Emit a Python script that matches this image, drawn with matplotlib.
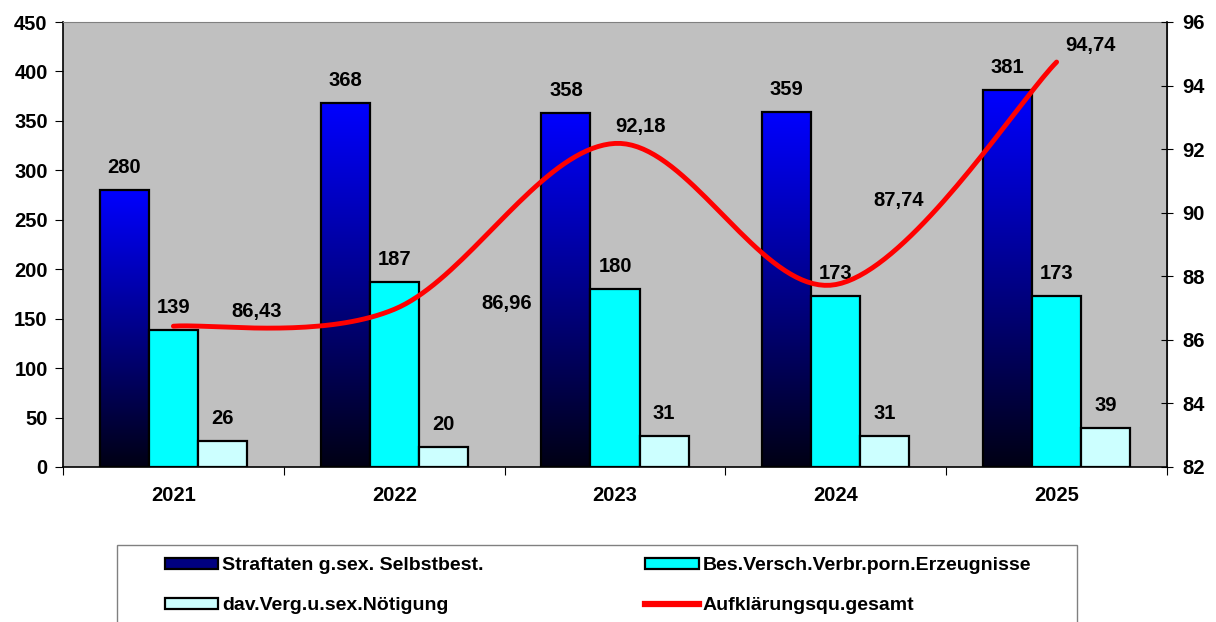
import numpy as np
import matplotlib
matplotlib.use("Agg")
import matplotlib.pyplot as plt
from matplotlib.colors import LinearSegmentedColormap
from matplotlib.patches import Rectangle, Patch
from matplotlib.lines import Line2D

plt.rcParams['font.family'] = ['Liberation Sans', 'DejaVu Sans']
plt.rcParams['font.weight'] = 'bold'

# Daten
years = ['2021', '2022', '2023', '2024', '2025']
straftaten = [280, 368, 358, 359, 381]
porn = [139, 187, 180, 173, 173]
noetigung = [26, 20, 31, 31, 39]
aufkl = [86.43, 86.96, 92.18, 87.74, 94.74]
aufkl_labels = ['86,43', '86,96', '92,18', '87,74', '94,74']
# Versatz der Beschriftungen der Linie (Pixel)
aufkl_offsets = [(83, 15), (112, 6), (26, 17), (63, 84), (34, 17)]

names = ['Straftaten g.sex. Selbstbest.', 'Bes.Versch.Verbr.porn.Erzeugnisse',
         'dav.Verg.u.sex.Nötigung', 'Aufklärungsqu.gesamt']

FS = 14.5
W, H = 1216, 622
fig = plt.figure(figsize=(W / 100, H / 100), dpi=100)
ax = fig.add_axes([63 / W, 1 - 467 / H, 1104 / W, 445 / H])
ax.set_facecolor('#c0c0c0')

x = np.arange(len(years)) + 0.5
bw = 0.222

# Verlauf fuer die erste Serie
cmap = LinearSegmentedColormap.from_list('blk_blue', [(0, 0, 0.08), (0, 0, 1.0)])
grad = np.linspace(0, 1, 256).reshape(-1, 1)
for xi, v in zip(x - bw, straftaten):
    rect = Rectangle((xi - bw / 2, 0), bw, v, facecolor='none', edgecolor='black', lw=1.6, zorder=3)
    ax.add_patch(rect)
    im = ax.imshow(grad, extent=[xi - bw / 2, xi + bw / 2, 0, v], origin='lower',
                   cmap=cmap, aspect='auto', zorder=2)
    im.set_clip_path(rect)

ax.bar(x, porn, bw, color='#00ffff', edgecolor='black', lw=1.6, zorder=3)
ax.bar(x + bw, noetigung, bw, color='#ccffff', edgecolor='black', lw=1.6, zorder=3)

for vals, off in [(straftaten, -bw), (porn, 0), (noetigung, bw)]:
    for xi, v in zip(x + off, vals):
        ax.annotate(str(v), (xi, v), xytext=(0, 13), textcoords='offset pixels',
                    ha='center', va='bottom', fontsize=FS, fontweight='bold')

ax.set_xlim(0, 5)
ax.set_ylim(0, 450)
ax.set_yticks(np.arange(0, 451, 50))
ax.set_xticks(x)
ax.set_xticklabels(years)
ax.set_xticks(np.arange(0, 6), minor=True)
ax.tick_params(axis='x', which='major', length=0, pad=14, labelsize=FS)
ax.tick_params(axis='x', which='minor', length=6, direction='out', width=0.8)
ax.tick_params(axis='y', length=6, direction='out', width=0.8, labelsize=FS, pad=5)
for s in ['left', 'bottom']:
    ax.spines[s].set_color('black')
    ax.spines[s].set_linewidth(1.2)
ax.spines['top'].set_color('#808080')
ax.spines['right'].set_color('#808080')

# zweite Achse mit geglaetteter Linie
ax2 = ax.twinx()
ax2.set_ylim(82, 96)
ax2.set_yticks(np.arange(82, 97, 2))
ax2.tick_params(axis='y', length=8, direction='inout', width=0.8, labelsize=FS, pad=7)
ax2.spines['right'].set_color('black')
ax2.spines['right'].set_linewidth(1.2)
for s in ['left', 'top', 'bottom']:
    ax2.spines[s].set_visible(False)


def smooth(px, py, n=40):
    # Catmull-Rom wie Excel-Glaettung
    P = np.column_stack([px, py])
    P = np.vstack([P[0], P, P[-1]])
    out = []
    t = np.linspace(0, 1, n)[:, None]
    for i in range(1, len(P) - 2):
        p0, p1, p2, p3 = P[i - 1], P[i], P[i + 1], P[i + 2]
        c1 = p1 + (p2 - p0) / 6
        c2 = p2 - (p3 - p1) / 6
        seg = (1 - t) ** 3 * p1 + 3 * (1 - t) ** 2 * t * c1 + 3 * (1 - t) * t ** 2 * c2 + t ** 3 * p2
        out.append(seg)
    out = np.vstack(out)
    return out[:, 0], out[:, 1]


# Glaettung im Pixelraum rechnen
fig.canvas.draw()
pts = ax2.transData.transform(np.column_stack([x, aufkl]))
sx, sy = smooth(pts[:, 0], pts[:, 1])
curve = ax2.transData.inverted().transform(np.column_stack([sx, sy]))
ax2.plot(curve[:, 0], curve[:, 1], color='red', lw=3.5, solid_capstyle='round', zorder=5)

for xi, v, lab, (dx, dy) in zip(x, aufkl, aufkl_labels, aufkl_offsets):
    ax2.annotate(lab, (xi, v), xytext=(dx, dy), textcoords='offset pixels',
                 ha='center', va='center', fontsize=FS, fontweight='bold')

# Legende
frame = Rectangle((117 / W, 1 - 640 / H), 960 / W, 95 / H, transform=fig.transFigure,
                  facecolor='white', edgecolor='#808080', lw=1, clip_on=False)
fig.patches.append(frame)
handles = [Patch(facecolor='#000080', edgecolor='black', lw=1.6),
           Patch(facecolor='#00ffff', edgecolor='black', lw=1.6),
           Patch(facecolor='#ccffff', edgecolor='black', lw=1.6),
           Line2D([], [], color='red', lw=4.5)]
order = [0, 2, 1, 3]
fig.legend([handles[i] for i in order], [names[i] for i in order], ncol=2,
           loc='upper left', bbox_to_anchor=(165 / W, 1 - 557 / H), frameon=False,
           handlelength=2.75, handleheight=0.5, handletextpad=0.2,
           columnspacing=8.3, labelspacing=1.2, borderpad=0, borderaxespad=0,
           prop={'weight': 'bold', 'size': 14})

fig.savefig('out.png', dpi=100, facecolor='white')
